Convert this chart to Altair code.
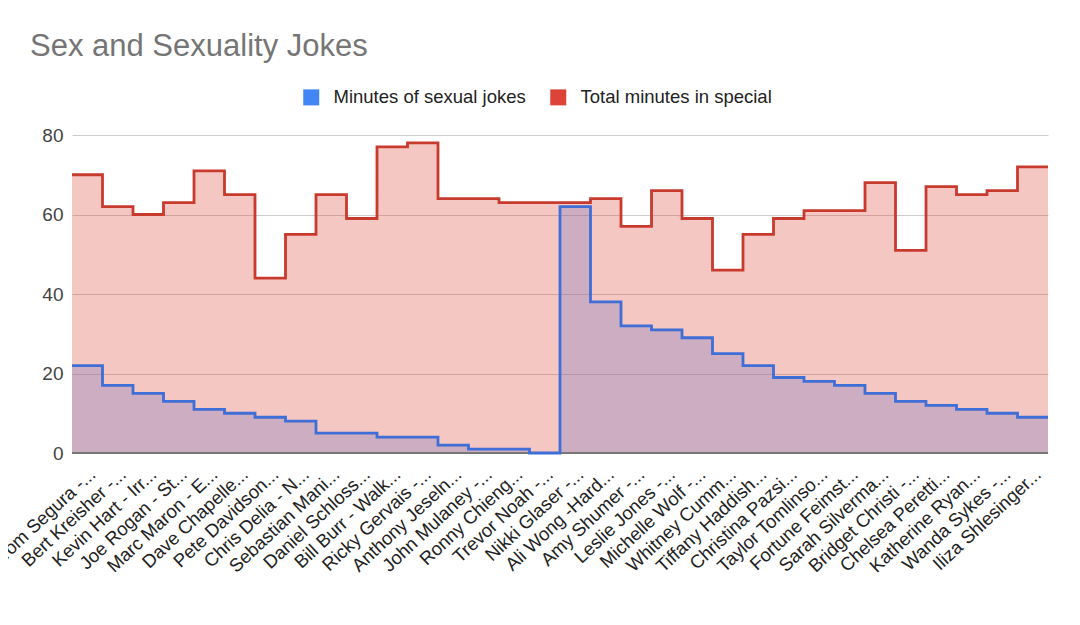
import altair as alt
import pandas as pd

names = [
    "Tom Segura -...", "Bert Kreisher -...", "Kevin Hart - Irr...", "Joe Rogan - St...",
    "Marc Maron - E...", "Dave Chapelle...", "Pete Davidson...", "Chris Delia - N...",
    "Sebastian Mani...", "Daniel Schloss...", "Bill Burr - Walk...", "Ricky Gervais -...",
    "Anthony Jeseln...", "John Mulaney -...", "Ronny Chieng...", "Trevor Noah -...",
    "Nikki Glaser -...", "Ali Wong -Hard...", "Amy Shumer -...", "Leslie Jones -...",
    "Michelle Wolf -...", "Whitney Cumm...", "Tiffany Haddish...", "Christina Pazsi...",
    "Taylor Tomlinso...", "Fortune Feimst...", "Sarah Silverma...", "Bridget Christi -...",
    "Chelsea Peretti...", "Katherine Ryan...", "Wanda Sykes -...", "Iliza Shlesinger...",
]
sexual_minutes = [22, 17, 15, 13, 11, 10, 9, 8, 5, 5, 4, 4, 2, 1, 1, 0,
                  62, 38, 32, 31, 29, 25, 22, 19, 18, 17, 15, 13, 12, 11, 10, 9]
total_minutes = [70, 62, 60, 63, 71, 65, 44, 55, 65, 59, 77, 78, 64, 64, 63, 63,
                 63, 64, 57, 66, 59, 46, 55, 59, 61, 61, 68, 51, 67, 65, 66, 72]
series_names = ["Minutes of sexual jokes", "Total minutes in special"]
series_colors = ["#4285F4", "#DB4437"]
line_colors = ["#3F6ED6", "#C93A2E"]

n = len(names)
rows = []
for i in range(n + 1):
    j = min(i, n - 1)
    rows.append({"idx": i, "series": series_names[0], "value": sexual_minutes[j]})
    rows.append({"idx": i, "series": series_names[1], "value": total_minutes[j]})
df = pd.DataFrame(rows)

label_expr = "[" + ",".join("'" + s + "'" for s in names) + "][floor(datum.value)]"

x = alt.X(
    "idx:Q",
    scale=alt.Scale(domain=[0, n], nice=False, zero=False),
    axis=alt.Axis(
        values=[i + 0.66 for i in range(n)], labelExpr=label_expr, labelAngle=-43,
        labelAlign="right", labelBaseline="middle", ticks=False, domain=False,
        grid=False, title=None, labelFontSize=18.5, labelColor="#222222",
        labelPadding=18, labelOverlap=False, labelBound=False, labelLimit=0,
    ),
)
y = alt.Y(
    "value:Q",
    scale=alt.Scale(domain=[0, 80], nice=False),
    axis=alt.Axis(
        values=[0, 20, 40, 60, 80], grid=True, gridColor="#cccccc", ticks=False,
        domain=False, labelFontSize=19, labelColor="#444444", labelPadding=9, title=None,
    ),
    stack=None,
)
color = alt.Color(
    "series:N",
    scale=alt.Scale(domain=series_names, range=series_colors),
    legend=alt.Legend(
        title=None, orient="none", direction="horizontal", legendX=230, legendY=-47,
        symbolType="square", symbolSize=256, symbolOpacity=1, symbolStrokeWidth=0,
        labelFontSize=18.5, labelColor="#222222", labelOffset=13, columnPadding=23,
        labelLimit=0,
    ),
)

base = alt.Chart(df)
blue_area = base.transform_filter(alt.datum.series == series_names[0]).mark_area(
    interpolate="step-after", opacity=0.3).encode(x=x, y=y, color=color)
red_area = base.transform_filter(alt.datum.series == series_names[1]).mark_area(
    interpolate="step-after", opacity=0.3).encode(x=x, y=y, color=color)
red_line = base.transform_filter(alt.datum.series == series_names[1]).mark_line(
    interpolate="step-after", strokeWidth=2.8, color=line_colors[1]).encode(x=x, y=y)
blue_line = base.transform_filter(alt.datum.series == series_names[0]).mark_line(
    interpolate="step-after", strokeWidth=2.8, color=line_colors[0]).encode(x=x, y=y)
zero_rule = base.mark_rule(color="#777777", strokeWidth=1.5).encode(y=alt.datum(0))

chart = alt.layer(blue_area, red_area, zero_rule, red_line, blue_line).properties(
    width=976, height=318,
    autosize=alt.AutoSizeParams(type="none"),
    padding={"left": 64, "top": 127, "right": 24, "bottom": 164},
    title=alt.TitleParams(
        "Sex and Sexuality Jokes", anchor="start", frame="group", dx=-42,
        fontSize=31, fontWeight="normal", color="#757575", offset=25,
    ),
).configure(font="Liberation Sans", background="white").configure_view(stroke=None)

chart.save("out.html", embed_options={"renderer": "svg", "actions": False})
